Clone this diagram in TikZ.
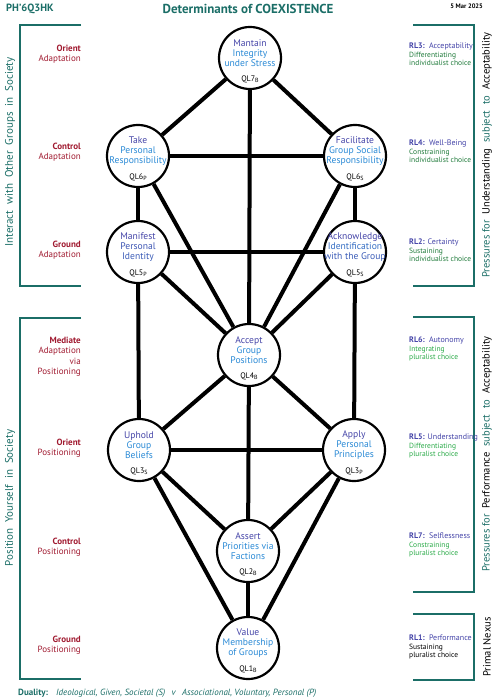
\documentclass[tikz,border=0pt]{standalone}
\usepackage{fontspec}
\setmainfont{PT Sans}
\usetikzlibrary{backgrounds}
\definecolor{tealc}{HTML}{1B6E67}
\definecolor{dred}{HTML}{A01A30}
\definecolor{ind}{HTML}{4545A8}
\definecolor{lb}{HTML}{2A8AD6}
\definecolor{dgreen}{HTML}{1F7A3A}
\definecolor{bgreen}{HTML}{2AAA48}
\tikzset{
  circ/.style={circle, draw=black, line width=2.2pt, fill=white, minimum size=62pt, inner sep=0pt},
  edge/.style={line width=4pt},
  ntext/.style={align=center, font=\fontsize{9.6}{10.2}\selectfont, text=lb, inner sep=0pt},
  qlab/.style={font=\fontsize{8}{8}\selectfont, text=black, inner sep=0pt},
  llab/.style={anchor=east, align=right, font=\fontsize{9}{10.5}\selectfont, text=dred, inner sep=0pt},
  rlab/.style={anchor=west, align=left, font=\fontsize{7.5}{8}\selectfont, inner sep=0pt},
  brk/.style={draw=tealc, line width=1.6pt},
  vtext/.style={rotate=90, font=\fontsize{11}{12}\selectfont, inner sep=0pt},
}
\newcommand\rlhead{\fontsize{8}{8}\selectfont}
\newcommand\qnode[6]{%
  \node[circ] (#1) at (#2,#3) {};
  \node[ntext] (#1t) at (#2,#3-5) {#4};
  \node[qlab] (#1q) at (#2,#3+21) {QL#5\raisebox{-1.5pt}{\fontsize{6}{6}\selectfont #6}};
}
\begin{document}
\begin{tikzpicture}[x=1pt,y=-1pt]
\useasboundingbox (0,0) rectangle (497,700);
% header
\node[font=\bfseries\fontsize{10.5}{11}\selectfont, text=tealc, anchor=west, inner sep=0pt] (hdr) at (6,9) {PH’6Q3HK};
\node[font=\bfseries\fontsize{13}{14}\selectfont, text=tealc, inner sep=0pt] (title) at (248,9) {Determinants of COEXISTENCE};
\node[font=\bfseries\fontsize{6.5}{7}\selectfont, anchor=east, inner sep=0pt] (date) at (483,6) {5 Mar 2025};

% circles
\qnode{q7}{250}{58}{\textcolor{ind}{Mantain}\\Integrity\\under Stress}{7}{B}
\qnode{q6p}{138}{156}{\textcolor{ind}{Take}\\Personal\\Responsibility}{6}{P}
\qnode{q6s}{355}{156}{\textcolor{ind}{Facilitate}\\Group Social\\Responsibility}{6}{S}
\qnode{q5p}{138}{252}{\textcolor{ind}{Manifest}\\\textcolor{ind!75!lb}{Personal}\\\textcolor{ind!65!lb}{Identity}}{5}{P}
\qnode{q5s}{355}{252}{\textcolor{ind}{Acknowledge}\\\textcolor{ind!40!lb}{Identification}\\\textcolor{ind!65!lb}{with the Group}}{5}{S}
\qnode{q4}{249}{355}{\textcolor{ind}{Accept}\\Group\\Positions}{4}{B}
\qnode{q3s}{139}{450}{\textcolor{ind}{Uphold}\\Group\\Beliefs}{3}{S}
\qnode{q3p}{354}{450}{\textcolor{ind}{Apply}\\Personal\\Principles}{3}{P}
\qnode{q2}{248}{551}{\textcolor{ind}{Assert}\\Priorities via\\Factions}{2}{B}
\qnode{q1}{248}{648}{\textcolor{ind}{Value}\\Membership\\of Groups}{1}{B}

\begin{scope}[on background layer]
\foreach \a/\b in {q7/q6p, q7/q6s, q7/q4, q6p/q6s, q6p/q5p, q6s/q5s, q6p/q4, q6s/q4,
  q5p/q5s, q5p/q4, q5s/q4, q5p/q3s, q5s/q3p, q4/q3s, q4/q3p, q3s/q3p, q4/q2,
  q3s/q2, q3p/q2, q2/q1, q3s/q1, q3p/q1}
  \draw[edge] (\a) -- (\b);
\end{scope}

% left brackets
\draw[brk] (81,25) -- (20,25) -- (20,286) -- (81,286);
\draw[brk] (81,318) -- (20,318) -- (20,679) -- (81,679);
\node[vtext, text=tealc] (lt1) at (10,152) {Interact\hspace{3pt} with\hspace{3pt} Other\hspace{3pt} Groups\hspace{3pt} in\hspace{3pt} Society};
\node[vtext, text=tealc] (lt2) at (10,498) {Position\hspace{3pt} Yourself\hspace{3pt} in\hspace{3pt} Society};

% left labels
\node[llab] (l1) at (81,54) {\textbf{Orient}\\Adaptation};
\node[llab] (l2) at (81,152) {\textbf{Control}\\Adaptation};
\node[llab] (l3) at (81,250) {\textbf{Ground}\\Adaptation};
\node[llab] (l4) at (81,357) {\textbf{Mediate}\\Adaptation\\via\\Positioning};
\node[llab] (l5) at (81,448) {\textbf{Orient}\\Positioning};
\node[llab] (l6) at (81,547) {\textbf{Control}\\Positioning};
\node[llab] (l7) at (81,645) {\textbf{Ground}\\Positioning};

% right brackets
\draw[brk] (413,25) -- (474,25) -- (474,286) -- (413,286);
\draw[brk] (413,317) -- (474,317) -- (474,592) -- (413,592);
\draw[brk] (413,614) -- (474,614) -- (474,680) -- (413,680);
\node[vtext, font=\fontsize{10.5}{12}\selectfont] (rt1) at (487,155) {\textcolor{tealc}{Pressures for}\hspace{3pt} Understanding\hspace{3pt} \textcolor{tealc}{subject\hspace{3pt} to}\hspace{3pt} Acceptability};
\node[vtext, font=\fontsize{10.5}{12}\selectfont] (rt2) at (487,454) {\textcolor{tealc}{Pressures for}\hspace{3pt} Performance\hspace{3pt} \textcolor{tealc}{subject\hspace{3pt} to}\hspace{3pt} Acceptability};
\node[vtext, font=\fontsize{10.5}{12}\selectfont] (rt3) at (487,647) {Primal Nexus};

% right labels
\node[rlab] (r3) at (409,54) {\textcolor{ind}{\rlhead\textbf{RL3:}\, Acceptability}\\[1pt]\textcolor{dgreen}{Differentiating}\\\textcolor{dgreen}{individualist choice}};
\node[rlab] (r4) at (409,151) {\textcolor{ind}{\rlhead\textbf{RL4:}\, Well-Being}\\[1pt]\textcolor{dgreen}{Constraining}\\\textcolor{dgreen}{individualist choice}};
\node[rlab] (r2) at (409,250) {\textcolor{ind}{\rlhead\textbf{RL2:} Certainty}\\[1pt]\textcolor{dgreen}{Sustaining}\\\textcolor{dgreen}{individualist choice}};
\node[rlab] (r6) at (409,349) {\textcolor{ind}{\rlhead\textbf{RL6:}\, Autonomy}\\[1pt]\textcolor{bgreen}{Integrating}\\\textcolor{bgreen}{pluralist choice}};
\node[rlab] (r5) at (409,446) {\textcolor{ind}{\rlhead\textbf{RL5:} Understanding}\\[1pt]\textcolor{bgreen}{Differentiating}\\\textcolor{bgreen}{pluralist choice}};
\node[rlab] (r7) at (409,545) {\textcolor{ind}{\rlhead\textbf{RL7:}\, Selflessness}\\[1pt]\textcolor{bgreen}{Constraining}\\\textcolor{bgreen}{pluralist choice}};
\node[rlab] (r1) at (409,647) {\textcolor{ind}{\rlhead\textbf{RL1:}\, Performance}\\[1pt]Sustaining\\pluralist choice};

% duality
\node[anchor=west, inner sep=0pt, text=tealc, font=\fontsize{9}{10}\selectfont] (dual) at (18,693) {\textbf{Duality:}\hspace{8pt}\textit{Ideological, Given, Societal (S)\hspace{4pt} v\hspace{4pt} Associational, Voluntary, Personal (P)}};
\end{tikzpicture}
\end{document}
